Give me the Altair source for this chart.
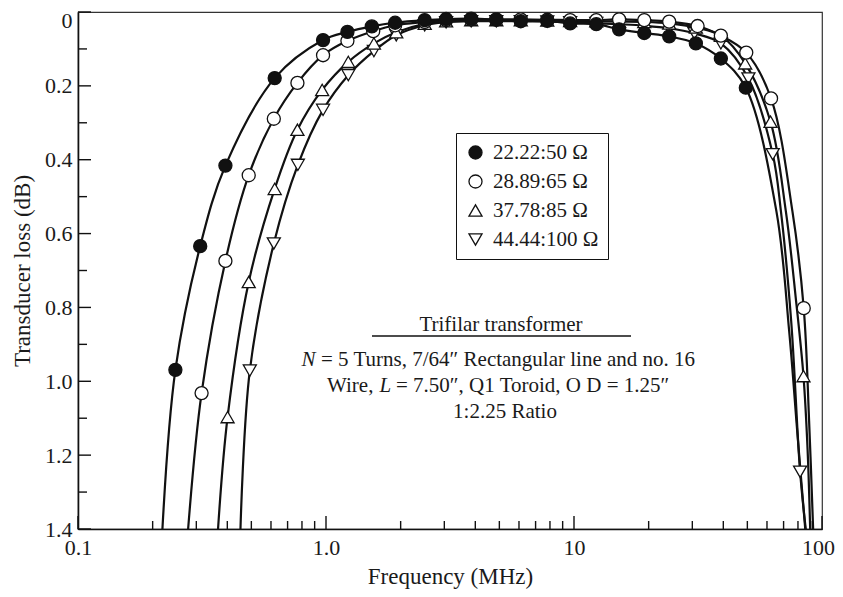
import altair as alt
import pandas as pd

# ---------------- data ----------------
series_names = ["22.22:50 Ω", "28.89:65 Ω", "37.78:85 Ω", "44.44:100 Ω"]
series_shapes = ["circle", "circle", "triangle-up", "triangle-down"]
series_fills = ["#111111", "white", "white", "white"]

# measured points (markers): frequency in MHz, transducer loss in dB
freq_a = [0.247, 0.311, 0.393, 0.621, 0.973, 1.22, 1.53, 1.90, 2.50, 3.05, 3.85, 4.86,
          6.1, 7.8, 9.65, 12.3, 15.2, 19.2, 24.2, 31.0, 39.1, 49.3]
loss_a = [0.969, 0.634, 0.416, 0.179, 0.076, 0.054, 0.039, 0.029, 0.022, 0.019, 0.018, 0.021,
          0.025, 0.024, 0.031, 0.033, 0.047, 0.057, 0.066, 0.085, 0.126, 0.205]

freq_b = [0.315, 0.393, 0.488, 0.616, 0.767, 0.973, 1.22, 1.55, 1.90, 2.50, 3.05, 3.85, 4.86,
          6.1, 7.8, 9.65, 12.3, 15.2, 19.2, 24.2, 31.5, 39.1, 49.5, 62.3, 84.4]
loss_b = [1.032, 0.674, 0.442, 0.289, 0.192, 0.117, 0.078, 0.052, 0.036, 0.027, 0.022, 0.020, 0.020,
          0.020, 0.021, 0.022, 0.022, 0.020, 0.022, 0.026, 0.038, 0.064, 0.110, 0.234, 0.802]

freq_c = [0.401, 0.488, 0.621, 0.767, 0.965, 1.23, 1.56, 1.92, 2.50, 3.05, 3.85, 4.86,
          6.1, 7.8, 9.65, 12.3, 15.2, 19.2, 24.2, 31.0, 39.1, 49.0, 62.0, 84.2]
loss_c = [1.097, 0.731, 0.479, 0.319, 0.211, 0.135, 0.085, 0.055, 0.032, 0.025, 0.022, 0.022,
          0.022, 0.023, 0.024, 0.025, 0.026, 0.027, 0.031, 0.042, 0.064, 0.139, 0.297, 0.986]

freq_d = [0.493, 0.616, 0.770, 0.973, 1.23, 1.56, 1.92, 2.50, 3.05, 3.85, 4.86,
          6.1, 7.8, 9.65, 12.3, 15.2, 19.2, 24.2, 30.6, 39.1, 50.5, 63.3, 81.6]
loss_d = [0.971, 0.627, 0.414, 0.265, 0.171, 0.106, 0.063, 0.036, 0.028, 0.025, 0.025,
          0.025, 0.026, 0.028, 0.030, 0.033, 0.037, 0.044, 0.058, 0.085, 0.180, 0.385, 1.245]

# extra points (where they leave the frame)
curve_freq_a = [0.219, 65.5, 73.7, 79.4, 85.6]
curve_loss_a = [1.4, 0.540, 0.863, 1.133, 1.4]
curve_freq_b = [0.278, 76.0, 88.7, 92.1]
curve_loss_b = [1.4, 0.540, 1.106, 1.4]
curve_freq_c = [0.367, 71.5, 78.6, 87.5, 89.6]
curve_loss_c = [1.4, 0.540, 0.782, 1.187, 1.4]
curve_freq_d = [0.452, 68.3, 75.1, 86.0]
curve_loss_d = [1.4, 0.540, 0.836, 1.4]

x_major = [0.1, 1, 10, 100]
x_minor = [0.2, 0.3, 0.4, 0.5, 0.6, 0.7, 0.8, 0.9, 2, 3, 4, 5, 6, 7, 8, 9,
           20, 30, 40, 50, 60, 70, 80, 90]
y_major = [0, 0.2, 0.4, 0.6, 0.8, 1.0, 1.2, 1.4]
y_minor = [0.1, 0.3, 0.5, 0.7, 0.9, 1.1, 1.3]

note_title = ["Trifilar transformer"]
note_n = ["N"]
note_line2 = ["= 5 Turns, 7/64″ Rectangular line and no. 16"]
note_wire = ["Wire,"]
note_l = ["L"]
note_line3 = ["= 7.50″, Q1 Toroid, O D = 1.25″"]
note_line4 = ["1:2.25 Ratio"]

# ---------------- tables ----------------
marker_sets = [(freq_a, loss_a), (freq_b, loss_b), (freq_c, loss_c), (freq_d, loss_d)]
curve_sets = [(curve_freq_a, curve_loss_a), (curve_freq_b, curve_loss_b),
              (curve_freq_c, curve_loss_c), (curve_freq_d, curve_loss_d)]

pt_rows, ln_rows = [], []
for idx in [3, 2, 1, 0]:  # filled circles drawn last (on top)
    fs, ls = marker_sets[idx]
    for f, l in zip(fs, ls):
        pt_rows.append({"series": series_names[idx], "f": f, "loss": l})
for idx in range(4):
    fs, ls = marker_sets[idx]
    cf, cl = curve_sets[idx]
    for f, l in zip(list(fs) + list(cf), list(ls) + list(cl)):
        ln_rows.append({"series": series_names[idx], "f": f, "loss": l})
points = pd.DataFrame(pt_rows)
lines = pd.DataFrame(ln_rows).sort_values(["series", "f"])

FONT = "Liberation Serif"
TXT = "#1a1a1a"
W, H = 744, 517
TOP = 4

xscale = alt.Scale(type="log", domain=[0.1, 100], nice=False)
yscale = alt.Scale(domain=[0, 1.4], reverse=True, nice=False, zero=False)

xaxis = alt.Axis(
    values=x_major, ticks=False, tickSize=0, grid=False,
    domainColor="#111", domainWidth=1.6,
    labelFont=FONT, labelFontSize=22, labelColor=TXT, labelPadding=8,
    labelFlush=False, labelOverlap=False,
    labelOffset={"condition": {"test": "datum.value > 50", "value": -4}, "value": 0},
    labelExpr="datum.value < 0.5 ? '0.1' : datum.value < 5 ? '1.0' : datum.value < 50 ? '10' : '100'",
    title="Frequency (MHz)", titleFont=FONT, titleFontSize=23, titleFontWeight="normal",
    titleColor=TXT, titleX=W / 2, titleY=54, titleAlign="center", titleBaseline="alphabetic",
)
yaxis = alt.Axis(
    values=y_major, ticks=False, tickSize=0, grid=False,
    domainColor="#111", domainWidth=1.6,
    labelFont=FONT, labelFontSize=22, labelColor=TXT, labelPadding=6,
    labelFlush=False, labelOverlap=False,
    labelOffset={"condition": {"test": "datum.value < 0.05", "value": 8}, "value": 0},
    labelExpr="datum.value == 0 ? '0' : format(datum.value, '.1f')",
    title="Transducer loss (dB)", titleFont=FONT, titleFontSize=23, titleFontWeight="normal",
    titleColor=TXT, titleX=-49, titleY=H / 2, titleAngle=270, titleAlign="center",
    titleBaseline="alphabetic",
)

X = alt.X("f:Q", scale=xscale, axis=xaxis)
Y = alt.Y("loss:Q", scale=yscale, axis=yaxis)

line_layer = alt.Chart(lines).mark_line(
    interpolate="catmull-rom", color="#111", strokeWidth=2.2, clip=True
).encode(x=X, y=Y, detail="series:N")

legend = alt.Legend(
    title=None, orient="none", legendX=378, legendY=121,
    strokeColor="#111", fillColor="white", padding=9,
    labelFont=FONT, labelFontSize=21, labelColor=TXT, labelOffset=7,
    rowPadding=7, symbolSize=170, symbolStrokeWidth=1.3,
)
point_layer = alt.Chart(points).mark_point(
    filled=False, color="#111", strokeWidth=1.3, opacity=1, size=170
).encode(
    x=X, y=Y,
    shape=alt.Shape("series:N", scale=alt.Scale(domain=series_names, range=series_shapes), legend=legend),
    fill=alt.Fill("series:N", scale=alt.Scale(domain=series_names, range=series_fills), legend=legend),
)

xmaj = alt.Chart(pd.DataFrame({"f": x_major})).mark_rule(color="#111", strokeWidth=1.4).encode(
    x=X, y=alt.value(H), y2=alt.value(H - 13))
xmin = alt.Chart(pd.DataFrame({"f": x_minor})).mark_rule(color="#111", strokeWidth=1.4).encode(
    x=X, y=alt.value(H), y2=alt.value(H - 8))
ymaj = alt.Chart(pd.DataFrame({"loss": y_major})).mark_rule(color="#111", strokeWidth=1.4).encode(
    y=Y, x=alt.value(0), x2=alt.value(13))
ymin = alt.Chart(pd.DataFrame({"loss": y_minor})).mark_rule(color="#111", strokeWidth=1.4).encode(
    y=Y, x=alt.value(0), x2=alt.value(9))


def note(text_list, x, y, align="left", italic=False):
    mk = dict(font=FONT, fontSize=21, color=TXT, align=align, baseline="alphabetic")
    if italic:
        mk["fontStyle"] = "italic"
    return alt.Chart(pd.DataFrame({"t": text_list})).mark_text(**mk).encode(
        text="t:N", x=alt.value(x), y=alt.value(y))


notes = [
    note(note_title, 423, 318.5, align="center"),
    note(note_n, 223.5, 353.5, italic=True),
    note(note_line2, 243, 353.5),
    note(note_wire, 249, 379.5),
    note(note_l, 301.5, 379.5, italic=True),
    note(note_line3, 318, 379.5),
    note(note_line4, 427, 406, align="center"),
]
underline = alt.Chart(pd.DataFrame({"t": note_title})).mark_rule(color="#111", strokeWidth=1.3).encode(
    x=alt.value(294), x2=alt.value(553), y=alt.value(324))

chart = alt.layer(
    xmin, xmaj, ymin, ymaj, line_layer, point_layer, underline, *notes
).properties(
    width=W, height=H,
    autosize=alt.AutoSizeParams(type="none"),
    padding={"left": 70, "top": TOP, "right": 13, "bottom": 581 - TOP - H},
).configure_view(stroke="#333", strokeWidth=1.2)

chart.save("out.html", embed_options={"renderer": "svg", "actions": False})
